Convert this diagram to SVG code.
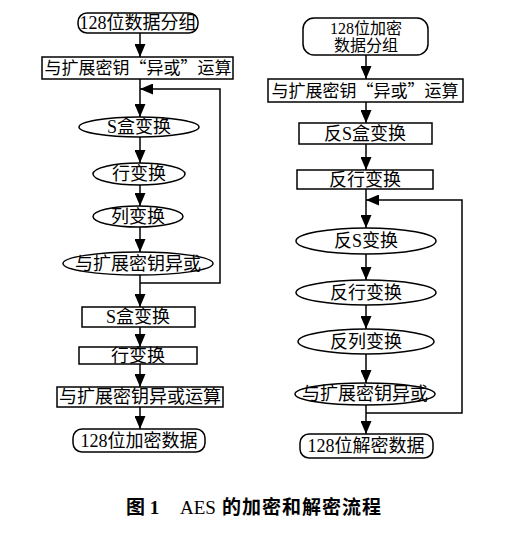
<svg xmlns="http://www.w3.org/2000/svg" width="512" height="537" viewBox="0 0 512 537">
<defs>
<style>
.s{fill:#fff;stroke:#000;stroke-width:1.5}
.t{font-family:"Liberation Serif","Noto Sans CJK SC",serif;font-size:18px;fill:#000;text-anchor:middle}
.q{font-family:"Noto Sans CJK SC",sans-serif}
.c{fill:none;stroke:#000;stroke-width:1.5}
.cap{font-family:"Liberation Serif","Noto Sans CJK SC",serif;font-size:19px;font-weight:bold;fill:#000}
</style>
<marker id="ah" markerUnits="userSpaceOnUse" markerWidth="13" markerHeight="11" refX="13" refY="5.5" orient="auto" viewBox="0 0 13 11">
<path d="M0,0 L13,5.5 L0,11 z" fill="#000"/>
</marker>
</defs>
<rect width="512" height="537" fill="#fff"/>
<g id="connectors">
<path class="c" d="M140,33 V57" marker-end="url(#ah)"/>
<path class="c" d="M140,79 V117" marker-end="url(#ah)"/>
<path class="c" d="M140,137 V163" marker-end="url(#ah)"/>
<path class="c" d="M140,185 V206" marker-end="url(#ah)"/>
<path class="c" d="M140,227 V252" marker-end="url(#ah)"/>
<path class="c" d="M140,275 V307" marker-end="url(#ah)"/>
<path class="c" d="M140,327 V347" marker-end="url(#ah)"/>
<path class="c" d="M140,364 V387" marker-end="url(#ah)"/>
<path class="c" d="M140,407 V429" marker-end="url(#ah)"/>
<path class="c" d="M140,283 H220 V89 H140" marker-end="url(#ah)"/>
<path class="c" d="M366,55 V79" marker-end="url(#ah)"/>
<path class="c" d="M366,102 V123" marker-end="url(#ah)"/>
<path class="c" d="M366,144 V170" marker-end="url(#ah)"/>
<path class="c" d="M366,189 V228" marker-end="url(#ah)"/>
<path class="c" d="M366,254 V280" marker-end="url(#ah)"/>
<path class="c" d="M366,305 V329" marker-end="url(#ah)"/>
<path class="c" d="M366,354 V383" marker-end="url(#ah)"/>
<path class="c" d="M366,405 V434" marker-end="url(#ah)"/>
<path class="c" d="M366,413 H462 V200 H366" marker-end="url(#ah)"/>
</g>
<g id="enc-start"><rect class="s" x="78" y="13" width="120" height="20" rx="9"/><text class="t" x="138" y="29">128位数据分组</text></g>
<g id="enc-xor0"><rect class="s" x="42" y="57" width="191" height="22"/><text class="t" x="138" y="74" style="font-size:17px">与扩展密钥<tspan class="q">“</tspan>异或<tspan class="q">”</tspan>运算</text></g>
<g id="enc-sbox"><ellipse class="s" cx="139" cy="127" rx="60" ry="10"/><text class="t" x="139" y="133">S盒变换</text></g>
<g id="enc-row"><ellipse class="s" cx="139" cy="174" rx="46" ry="11"/><text class="t" x="139" y="180">行变换</text></g>
<g id="enc-col"><ellipse class="s" cx="138" cy="216.5" rx="45" ry="10.5"/><text class="t" x="138" y="223">列变换</text></g>
<g id="enc-xor"><ellipse class="s" cx="138" cy="263.5" rx="75" ry="11.5"/><text class="t" x="138" y="270">与扩展密钥异或</text></g>
<g id="enc-sbox2"><rect class="s" x="82" y="307" width="113" height="20"/><text class="t" x="138" y="323">S盒变换</text></g>
<g id="enc-row2"><rect class="s" x="79" y="347" width="118" height="17"/><text class="t" x="138" y="362">行变换</text></g>
<g id="enc-xor2"><rect class="s" x="57" y="387" width="166" height="20"/><text class="t" x="140" y="403">与扩展密钥异或运算</text></g>
<g id="enc-end"><rect class="s" x="73" y="429" width="132" height="23" rx="9"/><text class="t" x="139" y="447">128位加密数据</text></g>
<g id="dec-start"><rect class="s" x="303" y="18" width="125" height="37" rx="11"/><text class="t" x="366" y="34" style="font-size:16px"><tspan x="366" y="34">128位加密</tspan><tspan x="366" y="51">数据分组</tspan></text></g>
<g id="dec-xor0"><rect class="s" x="268" y="79" width="195" height="23"/><text class="t" x="365" y="97" style="font-size:17px">与扩展密钥<tspan class="q">“</tspan>异或<tspan class="q">”</tspan>运算</text></g>
<g id="dec-sbox"><rect class="s" x="299" y="123" width="133" height="21"/><text class="t" x="365" y="140">反S盒变换</text></g>
<g id="dec-row"><rect class="s" x="297" y="170" width="136" height="19"/><text class="t" x="365" y="186">反行变换</text></g>
<g id="dec-isbox"><ellipse class="s" cx="366" cy="241" rx="70" ry="13"/><text class="t" x="366" y="247">反S变换</text></g>
<g id="dec-irow"><ellipse class="s" cx="366" cy="292.5" rx="70" ry="12.5"/><text class="t" x="366" y="299">反行变换</text></g>
<g id="dec-icol"><ellipse class="s" cx="366" cy="341.5" rx="68" ry="12.5"/><text class="t" x="366" y="348">反列变换</text></g>
<g id="dec-xor"><ellipse class="s" cx="365" cy="394" rx="70" ry="11"/><text class="t" x="365" y="400">与扩展密钥异或</text></g>
<g id="dec-end"><rect class="s" x="300" y="434" width="133" height="24" rx="9"/><text class="t" x="366" y="452">128位解密数据</text></g>
<text class="cap" x="126" y="514">图 1<tspan x="180" font-weight="normal">AES</tspan><tspan x="222" letter-spacing="1">的加密和解密流程</tspan></text>
</svg>
